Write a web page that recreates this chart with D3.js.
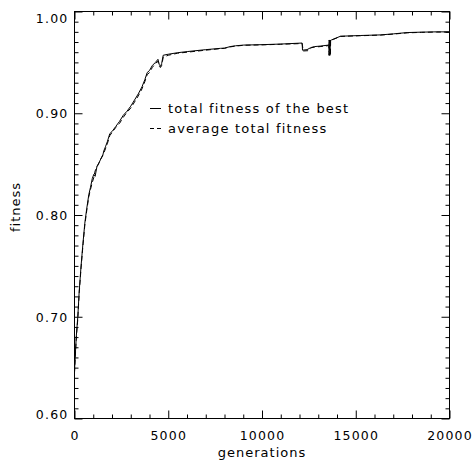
<!DOCTYPE html>
<html><head><meta charset="utf-8">
<script src="https://cdn.jsdelivr.net/npm/d3@7"></script>
<style>
html,body{margin:0;padding:0;background:#fff;}
svg text{font-family:"DejaVu Sans",sans-serif;fill:#000;}
</style></head>
<body><svg id="c" width="476" height="469"></svg>
<script>
const gens = [0,40,100,176,250,350,450,550,650,763,850,950,1030,1100,1200,1300,1400,1500,1563,1650,1750,1883,2000,2200,2400,2600,2800,3000,3200,3400,3600,3750,3877,4000,4150,4320,4450,4520,4587,4650,4730,5000,5500,6010,7000,7787,8000,8300,8587,9030,10000,11000,12140,12160,12400,12600,12800,13100,13560,13600,13700,13830,14187,15250,16320,17000,17740,18500,19300,20000];
const best = [0.646,0.662,0.682,0.700,0.725,0.750,0.772,0.792,0.806,0.820,0.827,0.836,0.840,0.838,0.848,0.851,0.855,0.858,0.863,0.867,0.872,0.880,0.882,0.887,0.892,0.898,0.902,0.907,0.913,0.919,0.926,0.933,0.940,0.942,0.947,0.950,0.953,0.948,0.946,0.949,0.957,0.958,0.9595,0.9606,0.9625,0.9638,0.964,0.9655,0.9663,0.967,0.9674,0.968,0.969,0.962,0.9625,0.9645,0.9655,0.966,0.967,0.971,0.972,0.973,0.9757,0.9764,0.977,0.978,0.9793,0.9797,0.98,0.98];
const avgGens = [0,40,100,176,250,350,450,550,650,763,850,950,1030,1080,1150,1250,1350,1450,1563,1650,1750,1883,2000,2200,2400,2600,2800,3000,3200,3400,3600,3750,3877,4000,4150,4320,4450,4520,4587,4650,4730,5000,5500,6010,7000,7787,8000,8300,8587,9030,10000,11000,12140,12200,12450,12650,12800,13100,13560,13570,13580,13590,13600,13610,13620,13630,13640,13650,13660,13700,13830,14187,15250,16320,17000,17740,18500,19300,20000];
const avg = [0.645,0.660,0.680,0.698,0.723,0.748,0.770,0.790,0.804,0.818,0.825,0.832,0.837,0.842,0.846,0.849,0.853,0.857,0.861,0.865,0.870,0.878,0.881,0.886,0.890,0.896,0.901,0.905,0.911,0.917,0.924,0.931,0.938,0.940,0.945,0.949,0.951,0.946,0.945,0.947,0.955,0.957,0.959,0.960,0.962,0.9635,0.9638,0.9652,0.966,0.9668,0.9672,0.9678,0.9685,0.9612,0.9615,0.9645,0.965,0.9655,0.9665,0.957,0.972,0.957,0.972,0.957,0.972,0.957,0.972,0.957,0.972,0.9718,0.9728,0.9755,0.9762,0.9768,0.9778,0.979,0.9795,0.9798,0.9798];
const xMajor = [0,5000,10000,15000,20000];
const xLabels = ["0","5000","10000","15000","20000"];
const yMajor = [0.6,0.7,0.8,0.9,1.0];
const yLabels = ["0.60","0.70","0.80","0.90","1.00"];
const legendNames = ["total fitness of the best","average total fitness"];
const xTitle = "generations", yTitle = "fitness";

const L=74.5, R=449.5, T=11.5, B=418.5;
const svg = d3.select("#c");
const x = d3.scaleLinear().domain([0,20000]).range([L,R]);
const y = d3.scaleLinear().domain([0.6,1.0]).range([B,T]);

const xMinor = d3.range(0,20001,1000).filter(v=>v%5000!==0);
const yMinor = d3.range(60,101).map(v=>v/100).filter(v=>Math.round(v*100)%10!==0);

function styleAxis(g){ g.select(".domain").remove(); g.selectAll("line").attr("stroke","#000").attr("stroke-width",1); g.selectAll("text").attr("font-size","12.5px").attr("letter-spacing","1.2px").attr("font-family","DejaVu Sans").attr("fill","#000"); }

// bottom
svg.append("g").attr("transform",`translate(0,${B})`).call(d3.axisBottom(x).tickValues(xMajor).tickSize(-8).tickPadding(13).tickFormat((d,i)=>xLabels[i])).call(styleAxis);
svg.append("g").attr("transform",`translate(0,${B})`).call(d3.axisBottom(x).tickValues(xMinor).tickSize(-4).tickFormat("")).call(styleAxis);
// top
svg.append("g").attr("transform",`translate(0,${T})`).call(d3.axisTop(x).tickValues(xMajor).tickSize(-8).tickFormat("")).call(styleAxis);
svg.append("g").attr("transform",`translate(0,${T})`).call(d3.axisTop(x).tickValues(xMinor).tickSize(-4).tickFormat("")).call(styleAxis);
// left
const gl = svg.append("g").attr("transform",`translate(${L},0)`).call(d3.axisLeft(y).tickValues(yMajor).tickSize(-8).tickPadding(6).tickFormat((d,i)=>yLabels[i])).call(styleAxis);
gl.selectAll(".tick text").attr("dy",(d)=> d===1.0 ? "0.85em" : d===0.6 ? "0.0em" : "0.37em").attr("x",-6);
svg.append("g").attr("transform",`translate(${L},0)`).call(d3.axisLeft(y).tickValues(yMinor).tickSize(-4).tickFormat("")).call(styleAxis);
// right
svg.append("g").attr("transform",`translate(${R},0)`).call(d3.axisRight(y).tickValues(yMajor).tickSize(-8).tickFormat("")).call(styleAxis);
svg.append("g").attr("transform",`translate(${R},0)`).call(d3.axisRight(y).tickValues(yMinor).tickSize(-4).tickFormat("")).call(styleAxis);

// box
svg.append("rect").attr("x",L).attr("y",T).attr("width",R-L).attr("height",B-T).attr("fill","none").attr("stroke","#000").attr("stroke-width",1);

// lines
const line = d3.line().x(d=>x(d[0])).y(d=>y(d[1]));
svg.append("path").datum(avgGens.map((g,i)=>[g,avg[i]])).attr("d",line).attr("fill","none").attr("stroke","#000").attr("stroke-width",1).attr("stroke-dasharray","5,3");
svg.append("path").datum(gens.map((g,i)=>[g,best[i]])).attr("d",line).attr("fill","none").attr("stroke","#000").attr("stroke-width",1);

// legend
const lg = svg.append("g");
[0,1].forEach(i=>{
  const yy = 108.5 + i*20;
  lg.append("line").attr("x1",150).attr("x2",161).attr("y1",yy).attr("y2",yy).attr("stroke","#000").attr("stroke-width",1).attr("stroke-dasharray", i===1 ? "4,3" : null);
  lg.append("text").attr("x",168).attr("y",yy+4.5).attr("font-size","13px").attr("letter-spacing","1.2px").text(legendNames[i]);
});

// titles
svg.append("text").attr("x",(L+R)/2).attr("y",457).attr("text-anchor","middle").attr("font-size","13px").attr("letter-spacing","1px").text(xTitle);
svg.append("text").attr("transform","translate(20,207) rotate(-90)").attr("text-anchor","middle").attr("font-size","13px").attr("letter-spacing","1px").text(yTitle);
</script></body></html>
